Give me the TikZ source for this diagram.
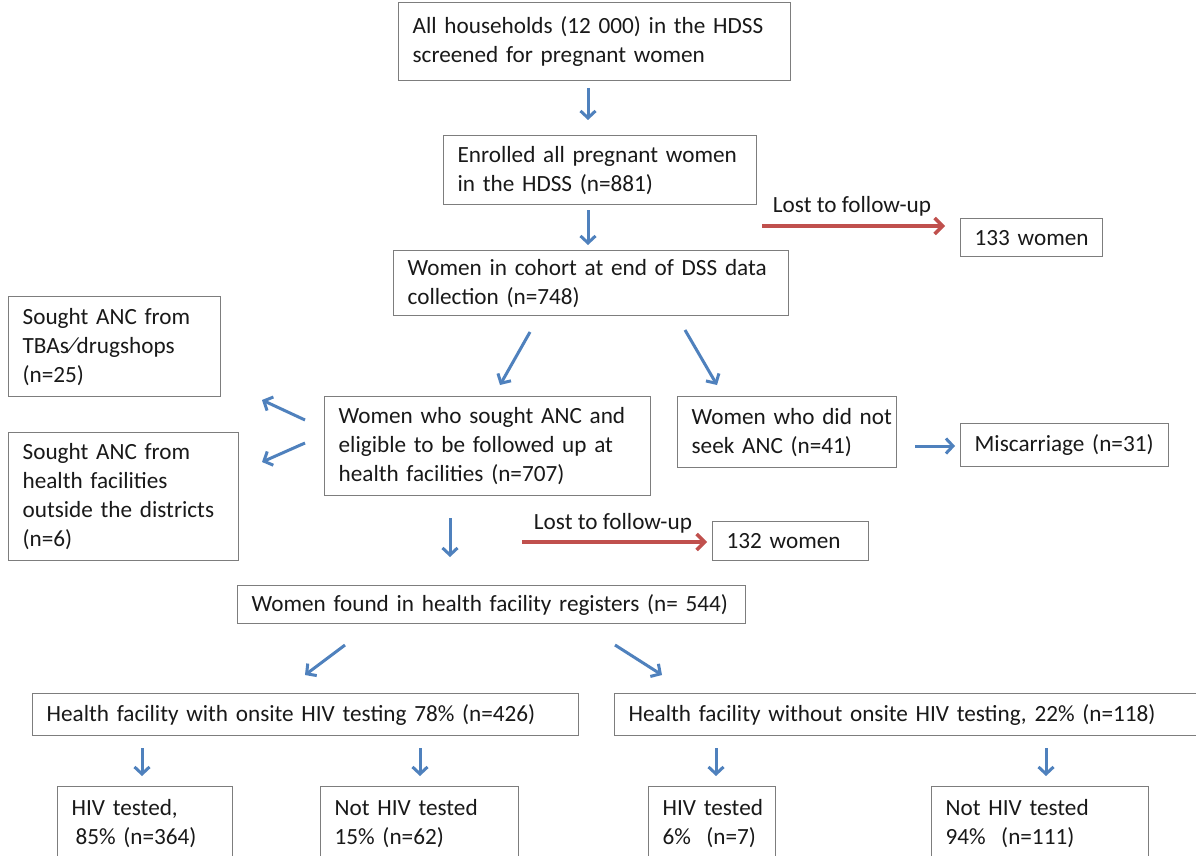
\documentclass[tikz,border=0pt]{standalone}
\usepackage{fontspec}
\setmainfont{Carlito}
\usetikzlibrary{arrows.meta}
\definecolor{bluearr}{RGB}{79,129,189}
\definecolor{redarr}{RGB}{192,80,77}
\definecolor{boxline}{RGB}{125,125,125}
\definecolor{txt}{RGB}{25,25,25}
\newcommand\nbr[1]{\mbox{#1}}
\begin{document}
\begin{tikzpicture}[x=1pt,y=-1pt,
  font=\fontsize{23.2}{29}\selectfont, text=txt,
  box/.style={draw=boxline, line width=1.3pt, anchor=north west, align=left, inner xsep=14pt, inner ysep=0pt,
    execute at begin node={\hfuzz=200pt\hbadness=10000}},
  barrow/.style={draw=bluearr, line width=3pt, -{Straight Barb[length=7pt,width=15pt]}},
  rarrow/.style={draw=redarr, line width=3.4pt, -{Straight Barb[length=8pt,width=16pt]}},
  lbl/.style={inner sep=0pt}]
\useasboundingbox[fill=white] (0,0) rectangle (1196,856);

% boxes
\node[box, text width=364pt, minimum height=78pt] (top) at (398,2) {\nbr{All households (12 000) in the HDSS}\\\nbr{screened for pregnant women}};
\node[box, text width=285pt, minimum height=69pt] (enr) at (443,135) {\nbr{Enrolled all pregnant women}\\\nbr{in the HDSS (n=881)}};
\node[box, text width=114pt, minimum height=38pt] (w133) at (960,218) {\nbr{133 women}};
\node[box, text width=367pt, minimum height=65pt] (coh) at (393,250) {\nbr{Women in cohort at end of DSS data}\\\nbr{collection (n=748)}};
\node[box, text width=184pt, minimum height=100pt] (tba) at (8,296) {\nbr{Sought ANC from}\\\nbr{TBAs⁄drugshops}\\\nbr{(n=25)}};
\node[box, text width=202pt, minimum height=128pt] (outs) at (8,432) {\nbr{Sought ANC from}\\\nbr{health facilities}\\\nbr{outside the districts}\\\nbr{(n=6)}};
\node[box, text width=298pt, minimum height=99pt] (sought) at (324,396) {\nbr{Women who sought ANC and}\\\nbr{eligible to be followed up at}\\\nbr{health facilities (n=707)}};
\node[box, text width=191pt, minimum height=71pt] (nots) at (677,396) {\nbr{Women who did not}\\\nbr{seek ANC (n=41)}};
\node[box, text width=180pt, minimum height=43pt] (misc) at (960,423) {\nbr{Miscarriage (n=31)}};
\node[box, text width=128pt, minimum height=39pt] (w132) at (712,521) {\nbr{132 women}};
\node[box, text width=480pt, minimum height=38pt] (found) at (237,585) {\nbr{Women found in health facility registers (n= 544)}};
\node[box, text width=518pt, minimum height=42pt] (with) at (32,693) {\nbr{Health facility with onsite HIV testing 78\% (n=426)}};
\node[box, text width=572pt, minimum height=42pt] (without) at (614,693) {\nbr{Health facility without onsite HIV testing, 22\% (n=118)}};
\node[box, text width=147pt, minimum height=74pt] (b1) at (57,786) {\nbr{HIV tested,}\\\nbr{\,85\% (n=364)}};
\node[box, text width=170pt, minimum height=74pt] (b2) at (320,786) {\nbr{Not HIV tested}\\\nbr{15\% (n=62)}};
\node[box, text width=99pt, minimum height=74pt] (b3) at (648,786) {\nbr{HIV tested}\\\nbr{6\%~~(n=7)}};
\node[box, text width=189pt, minimum height=74pt] (b4) at (931,786) {\nbr{Not HIV tested}\\\nbr{94\%~~(n=111)}};

% arrow end points
\coordinate (a1s) at (588,88);  \coordinate (a1e) at (588,120);
\coordinate (a2s) at (588,210); \coordinate (a2e) at (588,245);
\coordinate (r1s) at (762,226); \coordinate (r1e) at (945,226);
\coordinate (d1s) at (530,332); \coordinate (d1e) at (500,385);
\coordinate (d2s) at (685,330); \coordinate (d2e) at (717,385);
\coordinate (l1s) at (305,420); \coordinate (l1e) at (262,400);
\coordinate (l2s) at (305,443); \coordinate (l2e) at (262,462);
\coordinate (m1s) at (915,446); \coordinate (m1e) at (955,446);
\coordinate (a3s) at (450,518); \coordinate (a3e) at (450,557);
\coordinate (r2s) at (522,542); \coordinate (r2e) at (707,542);
\coordinate (d3s) at (345,645); \coordinate (d3e) at (305,675);
\coordinate (d4s) at (615,645); \coordinate (d4e) at (662,675);
\coordinate (e1s) at (142,748); \coordinate (e1e) at (142,776);
\coordinate (e2s) at (420,748); \coordinate (e2e) at (420,776);
\coordinate (e3s) at (716,748); \coordinate (e3e) at (716,776);
\coordinate (e4s) at (1046,748); \coordinate (e4e) at (1046,776);

\draw[barrow] (a1s) -- (a1e);
\draw[barrow] (a2s) -- (a2e);
\draw[rarrow] (r1s) -- (r1e);
\node[lbl] (lost1) at (852,206) {Lost to follow-up};
\draw[barrow] (d1s) -- (d1e);
\draw[barrow] (d2s) -- (d2e);
\draw[barrow] (l1s) -- (l1e);
\draw[barrow] (l2s) -- (l2e);
\draw[barrow] (m1s) -- (m1e);
\draw[barrow] (a3s) -- (a3e);
\draw[rarrow] (r2s) -- (r2e);
\node[lbl] (lost2) at (613,523) {Lost to follow-up};
\draw[barrow] (d3s) -- (d3e);
\draw[barrow] (d4s) -- (d4e);
\draw[barrow] (e1s) -- (e1e);
\draw[barrow] (e2s) -- (e2e);
\draw[barrow] (e3s) -- (e3e);
\draw[barrow] (e4s) -- (e4e);
\end{tikzpicture}
\end{document}
